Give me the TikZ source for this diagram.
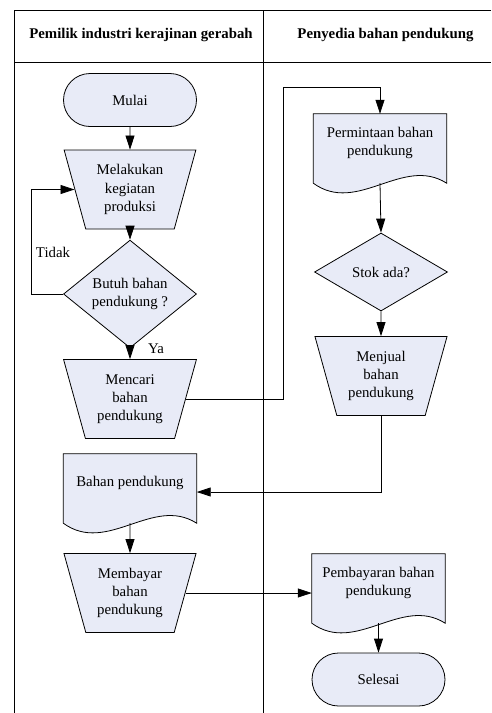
\documentclass[tikz,border=0pt]{standalone}
\usepackage{fontspec}
\setmainfont{Liberation Serif}
\usepackage{xcolor}
\definecolor{PaleBlue}{HTML}{E8EBF7}
\usepackage{tikz}
\usetikzlibrary{calc, arrows.meta, positioning, shapes.geometric, shapes.misc, backgrounds}

\tikzset{
  boxtext/.style={align=center, font=\fontsize{14.8}{18.3}\selectfont},
  shapebase/.style={boxtext, draw, fill=PaleBlue, line width=0.8pt, inner sep=0pt},
  terminal/.style={shapebase, rounded rectangle, minimum width=133pt, minimum height=53pt},
  manualop/.style={shapebase, trapezium, shape border rotate=180, trapezium stretches=true,
    trapezium left angle=72, trapezium right angle=72, minimum width=133pt, minimum height=79pt},
  decision/.style={shapebase, diamond, minimum width=133pt, minimum height=78pt},
  docbox/.style={boxtext, inner sep=0pt, minimum width=133pt, minimum height=58pt},
  flow/.style={-{Triangle[length=14pt,width=9pt]}, line width=0.8pt},
  lane/.style={line width=0.8pt},
  lanehead/.style={font=\bfseries\fontsize{14.8}{18}\selectfont},
}

% outline of a document shape behind a docbox node
\newcommand{\docshape}[1]{%
  \begin{scope}[on background layer]
    \filldraw[line width=0.8pt, fill=PaleBlue] (#1.north west) -- (#1.north east)
      -- ([yshift=-11pt]#1.south east)
      .. controls ($([yshift=-11pt]#1.south east)+(-44,-28)$) and ($([yshift=-11pt]#1.south west)+(44,32)$)
      .. ([yshift=-11pt]#1.south west) -- cycle;
  \end{scope}}

\begin{document}
\begin{tikzpicture}[x=1pt, y=-1pt]
  \useasboundingbox (0,0) rectangle (491,713);

  % swimlanes
  \draw[lane] (491,10) -- (14,10) -- (14,713);
  \draw[lane] (14,62) -- (491,62);
  \draw[lane] (263,10) -- (263,713);
  \node[lanehead] (headL) at (141,35) {Pemilik industri kerajinan gerabah};
  \node[lanehead] (headR) at (385.5,35) {Penyedia bahan pendukung};

  % left lane
  \node[terminal] (mulai) at (130,100) {Mulai};
  \node[manualop] (melakukan) at (130,189.5) {Melakukan\\kegiatan\\produksi};
  \node[decision] (butuh) at (130,294) {Butuh bahan\\pendukung ?};
  \node[manualop] (mencari) at (130,399) {Mencari\\bahan\\pendukung};
  \node[docbox] (bahan) at (130,483) {Bahan pendukung};
  \docshape{bahan}
  \node[manualop] (membayar) at (130,593) {Membayar\\bahan\\pendukung};

  % right lane
  \node[docbox] (permintaan) at (380,143) {Permintaan bahan\\pendukung};
  \docshape{permintaan}
  \node[decision] (stok) at (381,272) {Stok ada?};
  \node[manualop] (menjual) at (381,376) {Menjual\\bahan\\pendukung};
  \node[docbox] (pembayaran) at (378.5,583) {Pembayaran bahan\\pendukung};
  \docshape{pembayaran}
  \node[terminal] (selesai) at (378.5,679.5) {Selesai};

  % connectors
  \coordinate (turnA) at (283,87);
  \draw[flow] (mulai) -- (melakukan);
  \draw[flow] (melakukan) -- (butuh);
  \draw[flow] (butuh.west) -- ++(-32,0) |- (melakukan.west);
  \node[boxtext] (tidak) at (53,252) {Tidak};
  \draw[flow] (butuh.south) -- (mencari.north);
  \node[boxtext] (ya) at (156,349) {Ya};
  \draw[lane] (mencari.east) -| (turnA);
  \draw[flow] (turnA) -| (permintaan.north);
  \draw[flow] ([yshift=-11pt]permintaan.south) -- (stok.north);
  \draw[flow] (stok.south) -- (menjual.north);
  \draw[flow] (menjual.south) |- ([yshift=-9pt]bahan.east);
  \draw[flow] ([yshift=-11pt]bahan.south) -- (membayar.north);
  \draw[flow] (membayar.east) -- (membayar.east -| pembayaran.west);
  \draw[flow] ([yshift=-11pt]pembayaran.south) -- (selesai.north);
\end{tikzpicture}
\end{document}
